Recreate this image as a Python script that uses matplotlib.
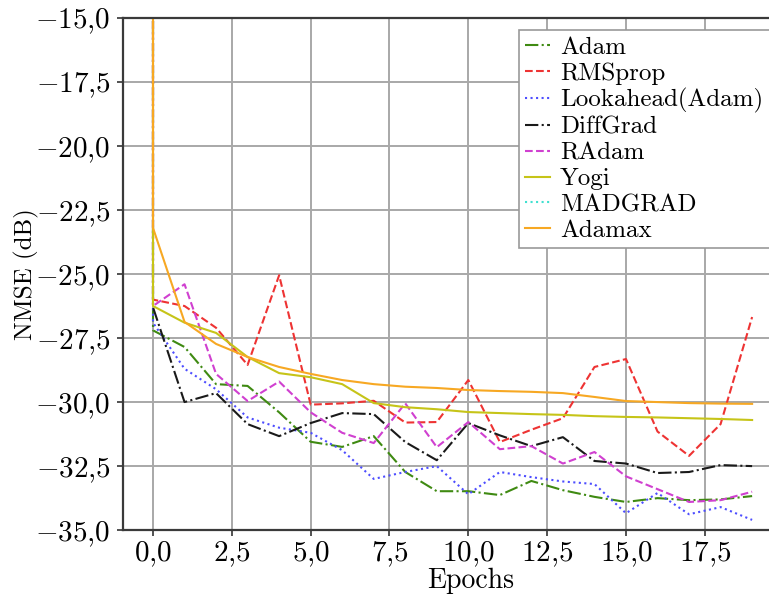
import matplotlib
matplotlib.use("Agg")
import matplotlib.pyplot as plt
from matplotlib.ticker import FuncFormatter, MultipleLocator

plt.rcParams["font.family"] = "serif"
plt.rcParams["font.serif"] = ["cmr10", "DejaVu Serif"]
plt.rcParams["mathtext.fontset"] = "cm"
plt.rcParams["axes.formatter.use_mathtext"] = True
plt.rcParams["font.size"] = 18

# first entry of every series is the untrained model, logged at epoch 0
epochs = [0] + list(range(20))

adam = [-8.0, -27.2, -27.85, -29.3, -29.37, -30.4, -31.55, -31.75, -31.33, -32.73, -33.48,
        -33.48, -33.63, -33.08, -33.44, -33.7, -33.9, -33.75, -33.83, -33.8, -33.67]
rmsprop = [-8.0, -26.0, -26.25, -27.1, -28.55, -25.05, -30.1, -30.05, -29.95, -30.8, -30.78,
           -29.14, -31.56, -31.08, -30.63, -28.63, -28.32, -31.15, -32.1, -30.86, -26.68]
lookahead = [-8.0, -26.9, -28.7, -29.5, -30.6, -31.0, -31.2, -31.88, -33.0, -32.73, -32.5,
             -33.6, -32.73, -32.93, -33.1, -33.2, -34.34, -33.55, -34.38, -34.1, -34.6]
diffgrad = [-8.0, -26.3, -30.0, -29.65, -30.86, -31.33, -30.82, -30.43, -30.47, -31.56, -32.27,
            -30.82, -31.3, -31.72, -31.37, -32.3, -32.4, -32.77, -32.73, -32.46, -32.5]
radam = [-8.0, -26.25, -25.4, -28.9, -29.96, -29.2, -30.4, -31.2, -31.6, -30.05, -31.76,
         -30.78, -31.84, -31.72, -32.4, -31.95, -32.9, -33.4, -33.9, -33.83, -33.5]
yogi = [-8.0, -26.25, -26.9, -27.3, -28.24, -28.87, -29.03, -29.3, -30.04, -30.2, -30.28,
        -30.39, -30.43, -30.47, -30.5, -30.55, -30.58, -30.6, -30.63, -30.66, -30.7]
madgrad = [-8.0, -11.2, -11.5, -11.6, -11.8, -11.9, -12.0, -12.1, -12.1, -12.2, -12.2,
           -12.3, -12.3, -12.3, -12.4, -12.4, -12.4, -12.5, -12.5, -12.5, -12.5]
adamax = [-8.0, -23.2, -26.87, -27.73, -28.24, -28.63, -28.9, -29.14, -29.3, -29.4, -29.45,
          -29.53, -29.57, -29.6, -29.65, -29.8, -29.96, -30.0, -30.04, -30.06, -30.07]

optimizers = ["Adam", "RMSprop", "Lookahead(Adam)", "DiffGrad", "RAdam", "Yogi", "MADGRAD", "Adamax"]
curves = [adam, rmsprop, lookahead, diffgrad, radam, yogi, madgrad, adamax]
colors = ["#3f8a12", "#ee3333", "#4d4dff", "#1a1a1a", "#d040d0", "#c6c418", "#40e0d0", "#f7a823"]
styles = ["-.", "--", ":", "-.", "--", "-", ":", "-"]


def comma_fmt(v, pos):
    return "$" + f"{v:.1f}".replace(".", "{,}") + "$"


fig = plt.figure(figsize=(7.69, 5.95), dpi=100)
ax = fig.add_axes([0.16, 0.109, 0.857, 0.861])

for name, vals, c, ls in zip(optimizers, curves, colors, styles):
    ax.plot(epochs, vals, ls, color=c, lw=1.5, label=name)

ax.set_ylim(-35, -15)
ax.set_xlim(-0.95, 19.95)
ax.xaxis.set_major_locator(MultipleLocator(2.5))
ax.yaxis.set_major_locator(MultipleLocator(2.5))
ax.xaxis.set_major_formatter(FuncFormatter(comma_fmt))
ax.yaxis.set_major_formatter(FuncFormatter(comma_fmt))
ax.grid(True, color="#a8a8a8", lw=1.4)
ax.set_axisbelow(True)
ax.tick_params(direction="out", length=4, width=1.2, color="#333333", labelsize=21)
ax.tick_params(axis="y", pad=5)
ax.tick_params(axis="x", pad=3)
for side in ["left", "bottom", "top"]:
    ax.spines[side].set_color("#3a3a3a")
    ax.spines[side].set_linewidth(1.6)

ax.set_xlabel("Epochs", fontsize=20)
ax.xaxis.set_label_coords(0.527, -0.074)
ax.set_ylabel("NMSE (dB)", fontsize=18)
ax.yaxis.set_label_coords(-0.128, 0.5)

leg = ax.legend(loc="upper right", fancybox=False, edgecolor="#999999", framealpha=1,
                handlelength=1.0, handletextpad=0.4, labelspacing=0.13, borderpad=0.25)
leg.get_frame().set_linewidth(1.2)

fig.savefig("out.png", dpi=100)
